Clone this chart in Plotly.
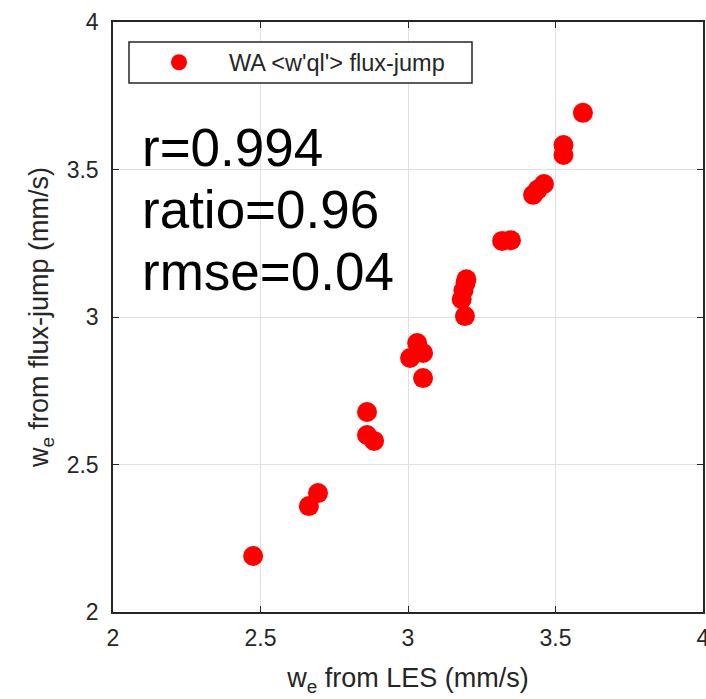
import plotly.graph_objects as go

les = [2.475, 2.664, 2.695, 2.861, 2.861, 2.885, 3.007, 3.031, 3.051, 3.051,
       3.182, 3.188, 3.195, 3.198, 3.193, 3.319, 3.349, 3.424, 3.440, 3.461,
       3.527, 3.527, 3.593]
flux = [2.19, 2.359, 2.403, 2.678, 2.600, 2.580, 2.861, 2.912, 2.878, 2.793,
        3.060, 3.090, 3.115, 3.128, 3.003, 3.258, 3.260, 3.414, 3.432, 3.451,
        3.549, 3.583, 3.692]
series_name = "WA &lt;w'ql'&gt; flux-jump"
stats = ["r=0.994", "ratio=0.96", "rmse=0.04"]
tick_vals = [2, 2.5, 3, 3.5, 4]
tick_text = ["2", "2.5", "3", "3.5", "4"]

W, H = 706, 699
L, R, T, B = 113, 3, 22, 87
pw, ph = W - L - R, H - T - B

def px_x(p):
    return (p - L) / pw

def px_y(p):
    return 1 - (p - T) / ph

FONT = "Liberation Sans, Arial, sans-serif"
AX = "#262626"

fig = go.Figure()
fig.add_trace(go.Scatter(
    x=les, y=flux, mode="markers", name=series_name,
    marker=dict(color="#ff0000", size=20, line=dict(width=0)),
))

axis_common = dict(
    range=[2, 4], tickvals=tick_vals, ticktext=tick_text,
    showgrid=True, gridcolor="#e0e0e0", gridwidth=1,
    showline=True, linecolor=AX, linewidth=1.5, mirror="allticks",
    ticks="inside", ticklen=6, tickcolor=AX, tickwidth=1,
    tickfont=dict(family=FONT, size=23, color=AX),
    ticklabeloverflow="allow", automargin=False,
    zeroline=False, fixedrange=True,
)
fig.update_xaxes(**axis_common, ticklabelstandoff=5,
                 title=dict(text="w<sub>e</sub> from LES (mm/s)",
                            font=dict(family=FONT, size=27, color=AX), standoff=18))
fig.update_yaxes(**axis_common, ticklabelstandoff=8,
                 title=dict(text="w<sub>e</sub> from flux-jump (mm/s)",
                            font=dict(family=FONT, size=27, color=AX), standoff=10))

centers = [148, 210, 271]
for s, c in zip(stats, centers):
    fig.add_annotation(text=s, xref="paper", yref="paper",
                       x=px_x(140), y=px_y(c), xanchor="left", yanchor="middle",
                       showarrow=False, font=dict(family=FONT, size=53, color="#000000"))

# legend frame
fig.add_shape(type="rect", xref="paper", yref="paper",
              x0=px_x(129), x1=px_x(472), y0=px_y(83), y1=px_y(42),
              fillcolor="white", line=dict(color=AX, width=1.5), layer="above")

fig.update_layout(
    width=W, height=H,
    margin=dict(l=L, r=R, t=T, b=B, pad=0, autoexpand=False),
    paper_bgcolor="white", plot_bgcolor="white",
    showlegend=True,
    legend=dict(x=px_x(129), y=px_y(62.5), xanchor="left", yanchor="middle",
                bgcolor="rgba(0,0,0,0)", borderwidth=0,
                font=dict(family=FONT, size=23.5, color=AX),
                itemwidth=90, tracegroupgap=0),
)

fig.write_html("out.html")
